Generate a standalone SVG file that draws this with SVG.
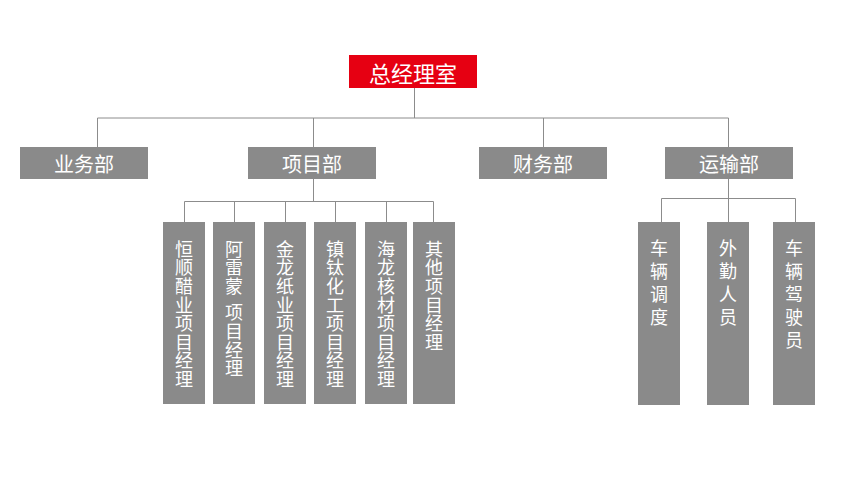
<svg xmlns="http://www.w3.org/2000/svg" width="848" height="490" viewBox="0 0 848 490">
<style>
.box{fill:#8a8a8a}
.top{fill:#e60012}
.t{fill:#ffffff;font-family:"Microsoft YaHei","Noto Sans CJK SC","Noto Sans",sans-serif;text-anchor:middle;dominant-baseline:central}
.dept{font-size:20px}
.title{font-size:22px}
.v{fill:#ffffff;font-family:"Microsoft YaHei","Noto Sans CJK SC","Noto Sans",sans-serif;font-size:18px;writing-mode:vertical-rl;text-anchor:start;letter-spacing:0.6px}
.w{letter-spacing:5px}
.ln{stroke:#8c8c8c;stroke-width:1;fill:none}
</style>
<rect width="848" height="490" fill="#ffffff"/>
<g id="connectors">
<path class="ln" d="M414.5 88V118M97.5 118H728.5M97.5 118V147M313.5 118V147M543.5 118V147M728.5 118V147"/>
<path class="ln" d="M313.5 179V201.5M184.5 201.5H433.5M184.5 201.5V222M234.5 201.5V222M285.5 201.5V222M335.5 201.5V222M386.5 201.5V222M433.5 201.5V222"/>
<path class="ln" d="M728.5 179V222M661.5 198.5H795.5M661.5 198.5V222M795.5 198.5V222"/>
</g>
<g id="n-top"><rect class="top" x="349" y="55" width="128" height="33"/><text class="t title" x="413" y="71.5">总经理室</text></g>
<g id="n-yewu"><rect class="box" x="20" y="147" width="128" height="32"/><text class="t dept" x="84" y="163">业务部</text></g>
<g id="n-xiangmu"><rect class="box" x="248" y="147" width="128" height="32"/><text class="t dept" x="312" y="163">项目部</text></g>
<g id="n-caiwu"><rect class="box" x="479" y="147" width="128" height="32"/><text class="t dept" x="543" y="163">财务部</text></g>
<g id="n-yunshu"><rect class="box" x="665" y="147" width="128" height="32"/><text class="t dept" x="729" y="163">运输部</text></g>
<g id="n-p1"><rect class="box" x="163" y="222" width="42" height="182"/><text class="v" x="184" y="240">恒顺醋业项目经理</text></g>
<g id="n-p2"><rect class="box" x="213" y="222" width="42" height="182"/><text class="v" x="234" y="240"><tspan>阿雷蒙 </tspan><tspan y="304">项目经理</tspan></text></g>
<g id="n-p3"><rect class="box" x="264" y="222" width="42" height="182"/><text class="v" x="285" y="240">金龙纸业项目经理</text></g>
<g id="n-p4"><rect class="box" x="314" y="222" width="42" height="182"/><text class="v" x="335" y="240">镇钛化工项目经理</text></g>
<g id="n-p5"><rect class="box" x="365" y="222" width="42" height="182"/><text class="v" x="386" y="240">海龙核材项目经理</text></g>
<g id="n-p6"><rect class="box" x="413" y="222" width="42" height="182"/><text class="v" x="434" y="240">其他项目经理</text></g>
<g id="n-t1"><rect class="box" x="638" y="222" width="42" height="183"/><text class="v w" x="659" y="239">车辆调度</text></g>
<g id="n-t2"><rect class="box" x="707" y="222" width="42" height="183"/><text class="v w" x="728" y="239">外勤人员</text></g>
<g id="n-t3"><rect class="box" x="773" y="222" width="42" height="183"/><text class="v w" x="794" y="239">车辆驾驶员</text></g>
</svg>
